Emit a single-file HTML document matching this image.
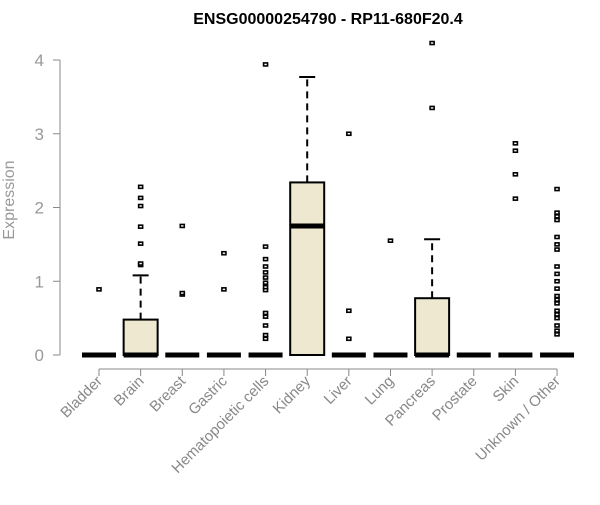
<!DOCTYPE html>
<html><head><meta charset="utf-8"><style>
body{margin:0;background:#fff;}
text{font-family:"Liberation Sans",Arial,sans-serif;}
</style></head><body>
<svg id="chart" width="600" height="500" xmlns="http://www.w3.org/2000/svg">
<text x="328" y="24" text-anchor="middle" font-size="16" font-weight="bold">ENSG00000254790 - RP11-680F20.4</text>
<text transform="translate(14,200) rotate(-90)" text-anchor="middle" font-size="16" fill="#999">Expression</text>
<g id="g"></g>
</svg>
<script>
const categories=["Bladder","Brain","Breast","Gastric","Hematopoietic cells","Kidney","Liver","Lung","Pancreas","Prostate","Skin","Unknown / Other"];
const q1=[0,0,0,0,0,0,0,0,0,0,0,0];
const medians=[0,0,0,0,0,1.75,0,0,0,0,0,0];
const q3=[0,0.48,0,0,0,2.34,0,0,0.77,0,0,0];
const whiskerHigh=[0,1.08,0,0,0,3.77,0,0,1.57,0,0,0];
const outliers=[[0.89],[1.22,1.24,1.51,1.74,2.02,2.13,2.28],[0.82,0.84,1.75],[0.89,1.38],[0.22,0.27,0.4,0.52,0.57,0.88,0.92,0.98,1.05,1.12,1.2,1.3,1.47,3.94],[],[0.22,0.6,3.0],[1.55],[3.35,4.23],[],[2.12,2.45,2.77,2.87],[0.28,0.33,0.4,0.5,0.55,0.6,0.7,0.75,0.8,0.9,1.0,1.1,1.2,1.43,1.5,1.6,1.83,1.88,1.93,2.25]];
const yTicks=[0,1,2,3,4];
const NS="http://www.w3.org/2000/svg",g=document.getElementById('g');
const y=v=>355-v*73.75, x=i=>99+i*41.64;
function el(t,a,p){const e=document.createElementNS(NS,t);for(const k in a)e.setAttribute(k,a[k]);(p||g).appendChild(e);return e;}
let ya=el('line',{x1:60,x2:60,y1:y(0),y2:y(4),stroke:'#888'});

yTicks.forEach(t=>{let l=el('line',{x1:53,x2:60,y1:y(t),y2:y(t),stroke:'#888'});

let tx=el('text',{x:44,y:y(t)+6,'text-anchor':'end','font-size':17,fill:'#999'});tx.textContent=t;
});
let xa=el('line',{x1:x(0),x2:x(11),y1:369,y2:369,stroke:'#888'});

categories.forEach((c,i)=>{const cx=x(i),hw=17;
let tk=el('line',{x1:cx,x2:cx,y1:369,y2:376,stroke:'#888'});

let lb=el('text',{transform:`translate(${cx+4},${382}) rotate(-45)`,'text-anchor':'end','font-size':15,fill:'#888'});lb.textContent=c;

const grp=el('g',{});
if(whiskerHigh[i]>q3[i]){
el('line',{x1:cx,x2:cx,y1:y(q3[i]),y2:y(whiskerHigh[i]),stroke:'#000','stroke-width':2,'stroke-dasharray':'7,5'},grp);
el('line',{x1:cx-8,x2:cx+8,y1:y(whiskerHigh[i]),y2:y(whiskerHigh[i]),stroke:'#000','stroke-width':2},grp);}
if(q3[i]>q1[i]) el('rect',{x:cx-hw,y:y(q3[i]),width:2*hw,height:y(q1[i])-y(q3[i]),fill:'#ede8cf',stroke:'#000','stroke-width':2},grp);
el('line',{x1:cx-hw,x2:cx+hw,y1:y(medians[i]),y2:y(medians[i]),stroke:'#000','stroke-width':5},grp);
outliers[i].forEach(v=>{let p=el('rect',{x:cx-2,y:y(v)-1.5,width:4,height:3,fill:'#fff',stroke:'#000','stroke-width':1.6},grp);
});
});
</script>
</body></html>
